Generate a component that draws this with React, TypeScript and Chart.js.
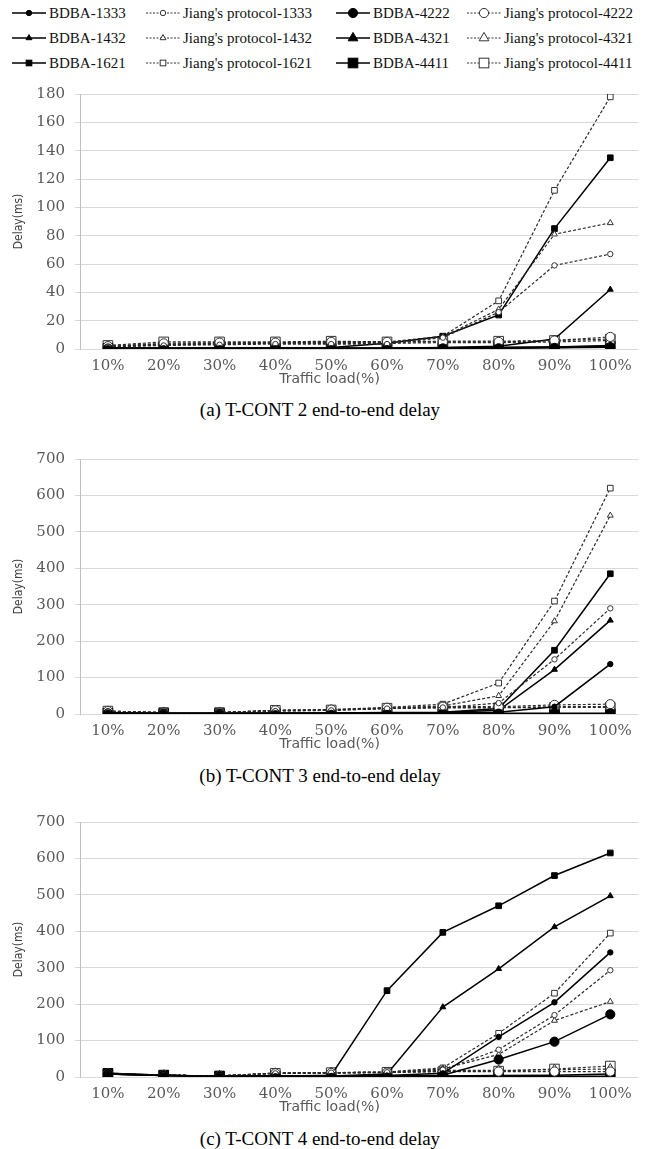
import React, { useEffect, useRef } from "react";
import { Chart, registerables } from "chart.js";
Chart.register(...registerables);

const categories = ["10%", "20%", "30%", "40%", "50%", "60%", "70%", "80%", "90%", "100%"];

const seriesNames = [
  "BDBA-1333", "Jiang's protocol-1333", "BDBA-4222", "Jiang's protocol-4222",
  "BDBA-1432", "Jiang's protocol-1432", "BDBA-4321", "Jiang's protocol-4321",
  "BDBA-1621", "Jiang's protocol-1621", "BDBA-4411", "Jiang's protocol-4411",
];

// (a) T-CONT 2
const t2_bdba1333 = [0.5, 0.5, 0.5, 0.5, 0.5, 0.6, 0.8, 1.0, 1.5, 2.5];
const t2_jiang1333 = [1.5, 2.5, 3, 3.5, 3.5, 3.5, 8, 26, 59, 67];
const t2_bdba4222 = [0.3, 0.3, 0.3, 0.3, 0.3, 0.3, 0.4, 0.5, 0.8, 1.2];
const t2_jiang4222 = [2, 4, 4.5, 4.5, 5, 5, 5, 5, 6, 8.5];
const t2_bdba1432 = [0.5, 0.5, 0.5, 0.5, 0.5, 0.6, 1, 2, 7, 42];
const t2_jiang1432 = [1.5, 3, 3.5, 4, 4.5, 4.5, 8.5, 28, 81, 89];
const t2_bdba4321 = [0.3, 0.3, 0.3, 0.3, 0.4, 0.4, 0.5, 0.6, 1, 1.5];
const t2_jiang4321 = [1.5, 3, 3.5, 4, 4, 4, 4.5, 4.5, 5, 6];
const t2_bdba1621 = [0.5, 0.5, 0.6, 0.8, 1, 4, 9, 24, 85, 135];
const t2_jiang1621 = [2, 3.5, 4, 4.5, 5, 5, 9, 34, 112, 178];
const t2_bdba4411 = [0.5, 0.5, 0.5, 0.5, 0.5, 0.5, 0.8, 1, 1.5, 2];
const t2_jiang4411 = [2.5, 5, 5, 5, 5.5, 5, 5.5, 5.5, 6, 7];

// (b) T-CONT 3
const t3_bdba1333 = [3, 2, 2, 2, 3, 3, 3, 5, 20, 137];
const t3_jiang1333 = [6, 3, 3, 8, 10, 15, 18, 30, 150, 290];
const t3_bdba4222 = [2, 1, 1, 1, 1, 1, 1, 1, 1, 1];
const t3_jiang4222 = [8, 4, 4, 10, 12, 17, 20, 20, 25, 27];
const t3_bdba1432 = [3, 2, 2, 2, 3, 3, 4, 10, 122, 257];
const t3_jiang1432 = [6, 3, 3, 9, 11, 16, 22, 50, 255, 545];
const t3_bdba4321 = [2, 1, 1, 1, 1, 1, 1, 2, 2, 2];
const t3_jiang4321 = [7, 4, 4, 9, 10, 15, 18, 18, 20, 20];
const t3_bdba1621 = [3, 2, 2, 3, 3, 4, 5, 15, 175, 385];
const t3_jiang1621 = [7, 4, 4, 10, 12, 18, 27, 85, 310, 620];
const t3_bdba4411 = [2, 1, 1, 1, 1, 1, 1, 1, 1, 1];
const t3_jiang4411 = [8, 4, 4, 10, 11, 16, 17, 17, 18, 18];

// (c) T-CONT 4
const t4_bdba1333 = [8, 4, 2, 2, 3, 4, 10, 110, 205, 342];
const t4_jiang1333 = [9, 5, 3, 10, 12, 13, 20, 75, 170, 293];
const t4_bdba4222 = [8, 4, 2, 2, 2, 3, 5, 48, 97, 172];
const t4_jiang4222 = [9, 5, 3, 10, 11, 12, 15, 15, 15, 15];
const t4_bdba1432 = [8, 4, 2, 2, 3, 8, 192, 297, 412, 497];
const t4_jiang1432 = [9, 5, 3, 11, 12, 13, 22, 62, 155, 207];
const t4_bdba4321 = [8, 4, 2, 2, 2, 2, 2, 2, 2, 2];
const t4_jiang4321 = [9, 5, 3, 10, 11, 12, 18, 18, 20, 22];
const t4_bdba1621 = [10, 5, 2, 2, 5, 237, 397, 470, 553, 615];
const t4_jiang1621 = [9, 5, 3, 11, 12, 14, 25, 120, 230, 395];
const t4_bdba4411 = [10, 5, 2, 2, 2, 3, 3, 4, 5, 8];
const t4_jiang4411 = [9, 5, 3, 10, 12, 13, 15, 16, 22, 30];

const tcont2 = [t2_bdba1333, t2_jiang1333, t2_bdba4222, t2_jiang4222, t2_bdba1432, t2_jiang1432, t2_bdba4321, t2_jiang4321, t2_bdba1621, t2_jiang1621, t2_bdba4411, t2_jiang4411];
const tcont3 = [t3_bdba1333, t3_jiang1333, t3_bdba4222, t3_jiang4222, t3_bdba1432, t3_jiang1432, t3_bdba4321, t3_jiang4321, t3_bdba1621, t3_jiang1621, t3_bdba4411, t3_jiang4411];
const tcont4 = [t4_bdba1333, t4_jiang1333, t4_bdba4222, t4_jiang4222, t4_bdba1432, t4_jiang1432, t4_bdba4321, t4_jiang4321, t4_bdba1621, t4_jiang1621, t4_bdba4411, t4_jiang4411];

const yTicksA = { max: 180, step: 20 };
const yTicksB = { max: 700, step: 100 };
const yTicksC = { max: 700, step: 100 };

const captions = ["(a) T-CONT 2 end-to-end delay", "(b) T-CONT 3 end-to-end delay", "(c) T-CONT 4 end-to-end delay"];

function seriesStyle(i: number) {
  const isJiang = i % 2 === 1;
  const group = Math.floor(i / 4); // 0 circle, 1 triangle, 2 rect
  const big = Math.floor(i / 2) % 2 === 1;
  const shape = group === 0 ? "circle" : group === 1 ? "triangle" : "rect";
  let r;
  if (shape === "circle") r = big ? 4.6 : 2.7;
  else if (shape === "triangle") r = big ? 5.6 : 3.4;
  else r = big ? 6.8 : 4.0;
  return { isJiang, shape, r, big };
}

const xTitlePlugin = {
  id: "xTitleCustom",
  afterDraw(chart: any) {
    const { ctx, chartArea } = chart;
    ctx.save();
    ctx.font = '14px "DejaVu Sans"';
    ctx.fillStyle = "#595959";
    ctx.textAlign = "center";
    ctx.textBaseline = "middle";
    ctx.fillText("Traffic load(%)", chartArea.left + (chartArea.right - chartArea.left) * 0.447, chartArea.bottom + 30);
    ctx.restore();
  },
};

function DelayChart({ series, yMax, yStep, top, height, padTop }: any) {
  const ref = useRef<HTMLCanvasElement>(null);
  useEffect(() => {
    const datasets = series.map((vals: number[], i: number) => {
      const s = seriesStyle(i);
      return {
        label: seriesNames[i],
        data: vals,
        borderColor: s.isJiang ? "#2a2a2a" : "#000000",
        borderWidth: s.isJiang ? 1.2 : 1.5,
        borderDash: s.isJiang ? [3, 2] : [],
        pointStyle: s.shape,
        pointRadius: s.r,
        pointBorderWidth: 1,
        pointBorderColor: s.isJiang ? "#333333" : "#000000",
        pointBackgroundColor: s.isJiang ? "#ffffff" : "#000000",
        tension: 0,
        fill: false,
      };
    });
    const chart = new Chart(ref.current as HTMLCanvasElement, {
      type: "line",
      data: { labels: categories, datasets },
      options: {
        animation: false,
        responsive: false,
        devicePixelRatio: 1,
        layout: { padding: { top: padTop, right: 6, left: 0, bottom: 0 } },
        plugins: { legend: { display: false }, tooltip: { enabled: false } },
        scales: {
          x: {
            offset: true,
            grid: { display: false, drawTicks: false },
            border: { display: false },
            ticks: { font: { family: "'DejaVu Serif', serif", size: 15 }, color: "#595959", padding: 8, maxRotation: 0, autoSkip: false },
            afterFit: (s: any) => { s.height = 41; },
          },
          y: {
            min: 0,
            max: yMax,
            ticks: { stepSize: yStep, padding: 10, font: { family: "'DejaVu Serif', serif", size: 15 }, color: "#595959" },
            grid: { color: "#d9d9d9", tickLength: 5, lineWidth: 1 },
            border: { color: "#bfbfbf" },
            title: { display: true, text: "Delay(ms)", font: { family: "'Liberation Sans Narrow', 'DejaVu Sans Condensed', sans-serif", size: 12 }, color: "#404040", padding: { top: 12, bottom: 0 } },
            afterFit: (s: any) => { s.width = 80; },
          },
        },
      },
      plugins: [xTitlePlugin],
    });
    return () => chart.destroy();
  }, []);
  return <canvas ref={ref} width={646} height={height} style={{ position: "absolute", left: 0, top, display: "block" }} />;
}

function LegendMarker({ i }: { i: number }) {
  const s = seriesStyle(i);
  const stroke = s.isJiang ? "#333" : "#000";
  const fill = s.isJiang ? "#fff" : "#000";
  const cx = 17, cy = 8;
  let marker;
  if (s.shape === "circle") marker = <circle cx={cx} cy={cy} r={s.r} fill={fill} stroke={stroke} strokeWidth={1} />;
  else if (s.shape === "triangle") {
    const r = s.r;
    marker = <polygon points={`${cx},${cy - r} ${cx + r * 0.87},${cy + r * 0.5} ${cx - r * 0.87},${cy + r * 0.5}`} fill={fill} stroke={stroke} strokeWidth={1} />;
  } else {
    const h = s.r * 0.707;
    marker = <rect x={cx - h} y={cy - h} width={h * 2} height={h * 2} fill={fill} stroke={stroke} strokeWidth={1} />;
  }
  return (
    <svg width={34} height={16} style={{ display: "block" }}>
      <line x1={0} y1={cy} x2={34} y2={cy} stroke={stroke} strokeWidth={s.isJiang ? 1 : 1.4} strokeDasharray={s.isJiang ? "2 1.5" : undefined} />
      {marker}
    </svg>
  );
}

export default function App() {
  const colX = [12, 146, 336, 467];
  const rowY = [13, 38, 63];
  return (
    <div style={{ position: "absolute", left: 0, top: 0, width: 646, height: 1149, overflow: "hidden", background: "#fff" }}>
      {seriesNames.map((name, i) => (
        <div key={name} style={{ position: "absolute", left: colX[i % 4], top: rowY[Math.floor(i / 4)] - 10, height: 20, display: "flex", alignItems: "center", whiteSpace: "nowrap", fontFamily: "'Liberation Serif', 'DejaVu Serif', serif", fontSize: 15, color: "#111" }}>
          <LegendMarker i={i} />
          <span style={{ marginLeft: 3 }}>{name}</span>
        </div>
      ))}
      <DelayChart series={tcont2} yMax={yTicksA.max} yStep={yTicksA.step} top={75} height={315} padTop={15} />
      <DelayChart series={tcont3} yMax={yTicksB.max} yStep={yTicksB.step} top={440} height={315} padTop={15} />
      <DelayChart series={tcont4} yMax={yTicksC.max} yStep={yTicksC.step} top={803} height={315} padTop={15} />
      {captions.map((c, i) => (
        <div key={c} style={{ position: "absolute", left: 0, width: 640, top: [399, 765, 1128][i], height: 22, lineHeight: "22px", textAlign: "center", fontFamily: "'Liberation Serif', 'DejaVu Serif', serif", fontSize: 19, color: "#000" }}>
          {c}
        </div>
      ))}
    </div>
  );
}
